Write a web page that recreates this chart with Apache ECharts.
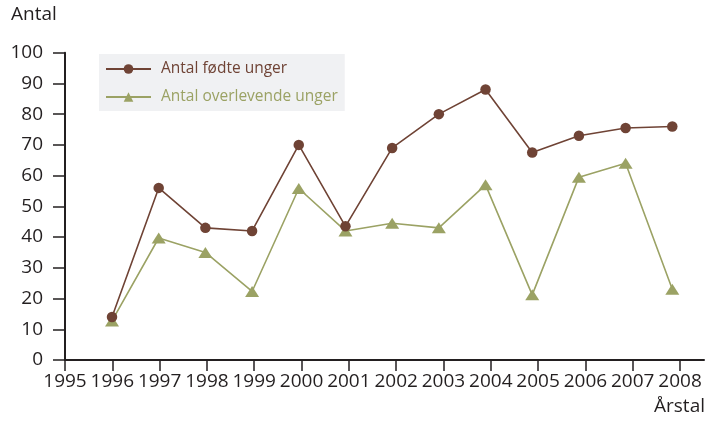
<!DOCTYPE html>
<html>
<head>
<meta charset="utf-8">
<script src="https://cdn.jsdelivr.net/npm/echarts@6/dist/echarts.min.js"></script>
<style>
html,body{margin:0;padding:0;background:#fff;}
#c{width:708px;height:421px;}
</style>
</head>
<body>
<div id="c"></div>
<script>
var years = [1996, 1997, 1998, 1999, 2000, 2001, 2002, 2003, 2004, 2005, 2006, 2007, 2008];
var tickYears = [1995, 1996, 1997, 1998, 1999, 2000, 2001, 2002, 2003, 2004, 2005, 2006, 2007, 2008];
var fodte = [14, 56, 43, 42, 70, 43.5, 69, 80, 88, 67.5, 73, 75.5, 76];
var overlevende = [12.7, 39.7, 35, 22.3, 55.8, 42, 44.5, 43, 57, 21.2, 59.5, 64, 23];
var seriesNames = ['Antal fødte unger', 'Antal overlevende unger'];

var FONT = '"Open Sans", "Noto Sans", sans-serif';
var BROWN = '#6f4335';
var GREEN = '#9ba264';
var AXIS = '#231f20';

function pairs(xs, ys) { return xs.map(function (x, i) { return [x, ys[i]]; }); }

var chart = echarts.init(document.getElementById('c'), null, {renderer: 'canvas'});
chart.setOption({
  animation: false,
  backgroundColor: '#fff',
  grid: {left: 65, right: 4, top: 52.7, bottom: 61, containLabel: false},
  graphic: [
    {type: 'text', left: 11, top: 5, style: {text: 'Antal', font: '19px ' + FONT, fill: AXIS}},
    {type: 'text', right: 3, top: 397, style: {text: 'Årstal', font: '19px ' + FONT, fill: AXIS}}
  ],
  legend: {
    left: 99, top: 54, orient: 'vertical',
    backgroundColor: '#f0f1f3',
    padding: [7, 7, 6, 6],
    itemWidth: 45, itemHeight: 12, itemGap: 12,
    textStyle: {fontFamily: FONT, fontSize: 15.5, padding: [0, 0, 0, 5]},
    data: [
      {name: seriesNames[0], textStyle: {color: BROWN}},
      {name: seriesNames[1], textStyle: {color: GREEN}}
    ]
  },
  xAxis: [
    {
      type: 'value', min: 1995, max: 2008.507, interval: 1,
      axisLine: {show: true, lineStyle: {color: AXIS, width: 2}},
      axisTick: {show: true, length: 11, lineStyle: {color: AXIS, width: 1.5}, customValues: tickYears},
      axisLabel: {customValues: tickYears, color: AXIS, fontFamily: FONT, fontSize: 19, margin: 12,
        formatter: function (v) { return String(Math.round(v)); }},
      splitLine: {show: false}
    },
    {
      type: 'value', min: 1994.993, max: 2008.679, show: false, position: 'bottom',
      splitLine: {show: false}
    }
  ],
  yAxis: {
    type: 'value', min: 0, max: 100, interval: 10,
    axisLine: {show: true, lineStyle: {color: AXIS, width: 2}},
    axisTick: {show: true, length: 12, lineStyle: {color: AXIS, width: 1.5}},
    axisLabel: {color: AXIS, fontFamily: FONT, fontSize: 19, margin: 22},
    splitLine: {show: false}
  },
  series: [
    {
      name: seriesNames[0], type: 'line', xAxisIndex: 1,
      data: pairs(years, fodte),
      symbol: 'circle', symbolSize: 10.5,
      lineStyle: {color: BROWN, width: 1.6},
      itemStyle: {color: BROWN},
      z: 3
    },
    {
      name: seriesNames[1], type: 'line', xAxisIndex: 1,
      data: pairs(years, overlevende),
      symbol: 'triangle', symbolSize: [14, 11],
      lineStyle: {color: GREEN, width: 1.6},
      itemStyle: {color: GREEN},
      z: 2
    }
  ]
});
</script>
</body>
</html>
